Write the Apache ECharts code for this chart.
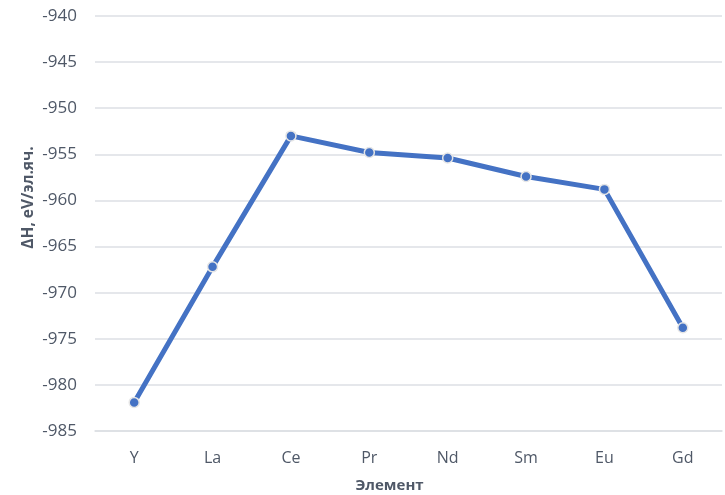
<!DOCTYPE html>
<html>
<head>
<meta charset="utf-8">
<script src="https://cdn.jsdelivr.net/npm/echarts@6/dist/echarts.min.js"></script>
<style>
  html, body { margin: 0; padding: 0; background: #ffffff; }
  #chart { width: 725px; height: 495px; }
</style>
</head>
<body>
<div id="chart"></div>
<script>
// Formation enthalpy by substituting element
const elements = ['Y', 'La', 'Ce', 'Pr', 'Nd', 'Sm', 'Eu', 'Gd'];
const enthalpy = [-981.9, -967.2, -953.0, -954.8, -955.4, -957.4, -958.8, -973.8];
const yMin = -985;
const yMax = -940;
const yStep = 5;

const chart = echarts.init(document.getElementById('chart'));
const textColor = '#4f5867';
const fontFamily = '"Open Sans", "Noto Sans", sans-serif';

chart.setOption({
  animation: false,
  grid: { left: 95, right: 3, top: 16, bottom: 64, outerBoundsMode: 'none' },
  xAxis: {
    type: 'category',
    data: elements,
    boundaryGap: true,
    axisLine: { show: true, lineStyle: { color: '#dcdfe4', width: 1.5 } },
    axisTick: { show: false },
    axisLabel: { color: textColor, fontSize: 16, fontFamily: fontFamily, margin: 19 },
    name: 'Элемент',
    nameLocation: 'middle',
    nameGap: 47,
    nameMoveOverlap: false,
    nameTextStyle: { color: textColor, fontSize: 15, fontWeight: 'bold', fontFamily: fontFamily, padding: [0, 38, 0, 0] }
  },
  yAxis: {
    type: 'value',
    min: yMin,
    max: yMax,
    interval: yStep,
    axisLine: { show: false },
    axisTick: { show: false },
    splitLine: { lineStyle: { color: '#dcdfe4', width: 1.5 } },
    axisLabel: { color: textColor, fontSize: 17, fontFamily: fontFamily, margin: 18 },
    name: 'ΔH, eV/эл.яч.',
    nameLocation: 'middle',
    nameGap: 58,
    nameMoveOverlap: false,
    nameTextStyle: { color: textColor, fontSize: 15.5, fontWeight: 'bold', fontFamily: fontFamily, padding: [0, 0, 0, 52] }
  },
  series: [{
    type: 'line',
    data: enthalpy,
    symbol: 'circle',
    symbolSize: 10,
    lineStyle: { color: '#4472C4', width: 5 },
    itemStyle: { color: '#4472C4', borderColor: '#e6e6e6', borderWidth: 1.5 }
  }]
});
</script>
</body>
</html>
